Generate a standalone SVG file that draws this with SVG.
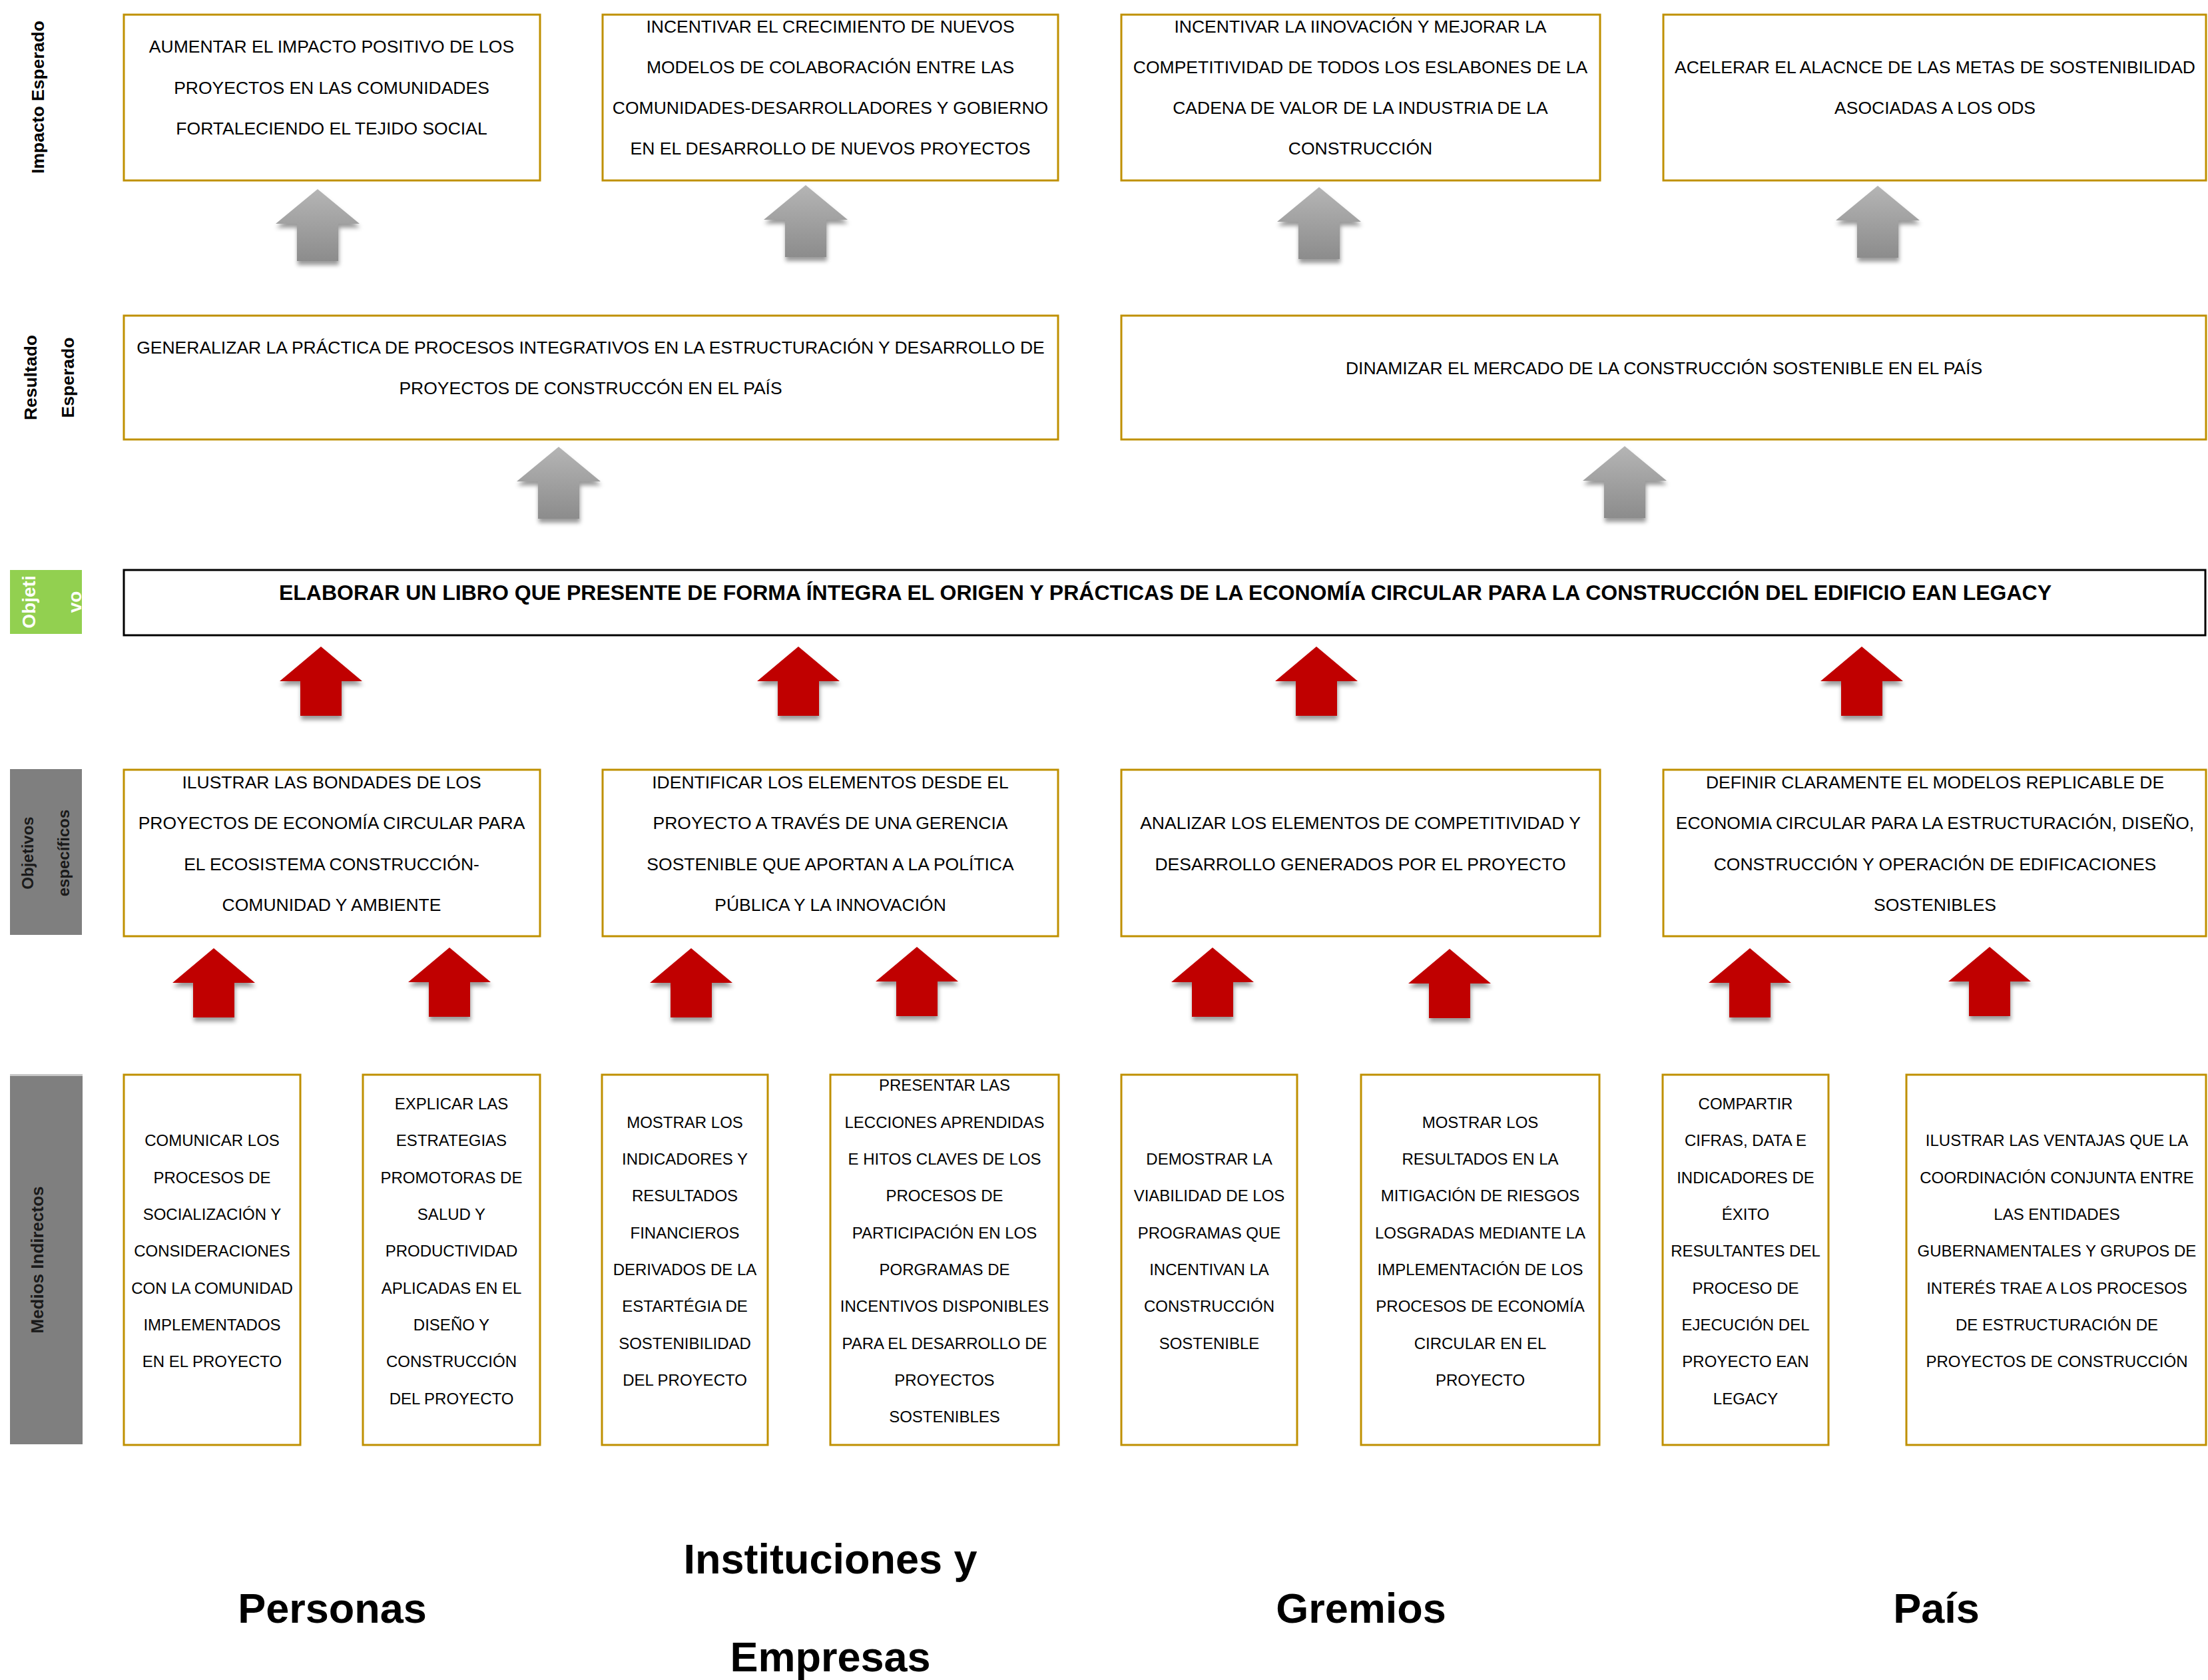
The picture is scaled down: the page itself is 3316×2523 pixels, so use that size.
<svg xmlns="http://www.w3.org/2000/svg" width="3316" height="2523" viewBox="0 0 3316 2523">
<style>
.box{fill:#fff;stroke:#BF9000;stroke-width:3}
.obj{fill:#fff;stroke:#000;stroke-width:3}
.t{font-family:"Liberation Sans",Arial,sans-serif;font-size:26.5px;fill:#000;text-anchor:middle}
.m{font-family:"Liberation Sans",Arial,sans-serif;font-size:24px;fill:#000;text-anchor:middle}
.ob{font-family:"Liberation Sans",Arial,sans-serif;font-size:32px;font-weight:bold;fill:#000;text-anchor:middle}
.lab{font-family:"Liberation Sans",Arial,sans-serif;font-size:26.5px;font-weight:bold;fill:#000;text-anchor:middle}
.labd{font-family:"Liberation Sans",Arial,sans-serif;font-size:24px;font-weight:bold;fill:#1a1a1a;text-anchor:middle}
.labw{font-family:"Liberation Sans",Arial,sans-serif;font-size:28px;font-weight:bold;fill:#fff;text-anchor:middle}
.big{font-family:"Liberation Sans",Arial,sans-serif;font-size:63px;font-weight:bold;fill:#000;text-anchor:middle}
</style>
<defs>
<linearGradient id="gg" x1="0" y1="0" x2="0" y2="1">
<stop offset="0" stop-color="#B5B5B5"/>
<stop offset="1" stop-color="#8C8C8C"/>
</linearGradient>
<filter id="sh" x="-30%" y="-20%" width="160%" height="150%">
<feDropShadow dx="1" dy="6" stdDeviation="3" flood-color="#000" flood-opacity="0.4"/>
</filter>
<path id="ga" d="M0,0 L63,52 L31,52 L31,108 L-31,108 L-31,52 L-63,52 Z" fill="url(#gg)"/>
<path id="ra" d="M0,0 L62,52 L31,52 L31,104 L-31,104 L-31,52 L-62,52 Z" fill="#C00000"/>
</defs>
<rect width="3316" height="2523" fill="#fff"/>

<!-- Row labels -->
<g id="lbl-impacto">
<text class="lab" transform="translate(66,146) rotate(-90)">Impacto Esperado</text>
</g>
<g id="lbl-resultado">
<text class="lab" transform="translate(55,567) rotate(-90)">Resultado</text>
<text class="lab" transform="translate(111,567) rotate(-90)">Esperado</text>
</g>
<g id="lbl-objetivo">
<rect x="15" y="856" width="108" height="96" fill="#92D050"/>
<text class="labw" transform="translate(53,904) rotate(-90)">Objeti</text>
<text class="labw" transform="translate(122,904) rotate(-90)">vo</text>
</g>
<g id="lbl-objesp">
<rect x="15" y="1155" width="108" height="249" fill="#7F7F7F"/>
<text class="labd" transform="translate(50,1281) rotate(-90)">Objetivos</text>
<text class="labd" transform="translate(104,1281) rotate(-90)">específicos</text>
</g>
<g id="lbl-medios">
<rect x="15" y="1613" width="109" height="556" fill="#7F7F7F"/>
<line x1="15" y1="1614.5" x2="124" y2="1614.5" stroke="#C8C8C8" stroke-width="3"/>
<text class="labd" style="font-size:26px" transform="translate(65,1892) rotate(-90)">Medios Indirectos</text>
</g>

<!-- Impacto esperado -->
<g id="imp1">
<rect class="box" x="186" y="22" width="625" height="249"/>
<text class="t"><tspan x="498" y="79.3">AUMENTAR EL IMPACTO POSITIVO DE LOS</tspan><tspan x="498" y="140.5">PROYECTOS EN LAS COMUNIDADES</tspan><tspan x="498" y="201.7">FORTALECIENDO EL TEJIDO SOCIAL</tspan></text>
</g>
<g id="imp2">
<rect class="box" x="905" y="22" width="684" height="249"/>
<text class="t"><tspan x="1247" y="48.7">INCENTIVAR EL CRECIMIENTO DE NUEVOS</tspan><tspan x="1247" y="109.9">MODELOS DE COLABORACIÓN ENTRE LAS</tspan><tspan x="1247" y="171.1">COMUNIDADES-DESARROLLADORES Y GOBIERNO</tspan><tspan x="1247" y="232.3">EN EL DESARROLLO DE NUEVOS PROYECTOS</tspan></text>
</g>
<g id="imp3">
<rect class="box" x="1684" y="22" width="719" height="249"/>
<text class="t"><tspan x="2043" y="48.7">INCENTIVAR LA IINOVACIÓN Y MEJORAR LA</tspan><tspan x="2043" y="109.9">COMPETITIVIDAD DE TODOS LOS ESLABONES DE LA</tspan><tspan x="2043" y="171.1">CADENA DE VALOR DE LA INDUSTRIA DE LA</tspan><tspan x="2043" y="232.3">CONSTRUCCIÓN</tspan></text>
</g>
<g id="imp4">
<rect class="box" x="2498" y="22" width="815" height="249"/>
<text class="t"><tspan x="2906" y="109.9">ACELERAR EL ALACNCE DE LAS METAS DE SOSTENIBILIDAD</tspan><tspan x="2906" y="171.1">ASOCIADAS A LOS ODS</tspan></text>
</g>

<!-- Resultado esperado -->
<g id="res1">
<rect class="box" x="186" y="474" width="1403" height="186"/>
<text class="t"><tspan x="887" y="530.9">GENERALIZAR LA PRÁCTICA DE PROCESOS INTEGRATIVOS EN LA ESTRUCTURACIÓN Y DESARROLLO DE</tspan><tspan x="887" y="592.1">PROYECTOS DE CONSTRUCCÓN EN EL PAÍS</tspan></text>
</g>
<g id="res2">
<rect class="box" x="1684" y="474" width="1629" height="186"/>
<text class="t" x="2499" y="561.5">DINAMIZAR EL MERCADO DE LA CONSTRUCCIÓN SOSTENIBLE EN EL PAÍS</text>
</g>

<!-- Objetivo -->
<g id="objetivo">
<rect class="obj" x="186" y="856" width="3126" height="98"/>
<text class="ob" x="1750" y="900.5">ELABORAR UN LIBRO QUE PRESENTE DE FORMA ÍNTEGRA EL ORIGEN Y PRÁCTICAS DE LA ECONOMÍA CIRCULAR PARA LA CONSTRUCCIÓN DEL EDIFICIO EAN LEGACY</text>
</g>

<!-- Objetivos especificos -->
<g id="oe1">
<rect class="box" x="186" y="1156" width="625" height="250"/>
<text class="t"><tspan x="498" y="1184.2">ILUSTRAR LAS BONDADES DE LOS</tspan><tspan x="498" y="1245.4">PROYECTOS DE ECONOMÍA CIRCULAR PARA</tspan><tspan x="498" y="1306.6">EL ECOSISTEMA CONSTRUCCIÓN-</tspan><tspan x="498" y="1367.8">COMUNIDAD Y AMBIENTE</tspan></text>
</g>
<g id="oe2">
<rect class="box" x="905" y="1156" width="684" height="250"/>
<text class="t"><tspan x="1247" y="1184.2">IDENTIFICAR LOS ELEMENTOS DESDE EL</tspan><tspan x="1247" y="1245.4">PROYECTO A TRAVÉS DE UNA GERENCIA</tspan><tspan x="1247" y="1306.6">SOSTENIBLE QUE APORTAN A LA POLÍTICA</tspan><tspan x="1247" y="1367.8">PÚBLICA Y LA INNOVACIÓN</tspan></text>
</g>
<g id="oe3">
<rect class="box" x="1684" y="1156" width="719" height="250"/>
<text class="t"><tspan x="2043" y="1245.4">ANALIZAR LOS ELEMENTOS DE COMPETITIVIDAD Y</tspan><tspan x="2043" y="1306.6">DESARROLLO GENERADOS POR EL PROYECTO</tspan></text>
</g>
<g id="oe4">
<rect class="box" x="2498" y="1156" width="815" height="250"/>
<text class="t"><tspan x="2906" y="1184.2">DEFINIR CLARAMENTE EL MODELOS REPLICABLE DE</tspan><tspan x="2906" y="1245.4">ECONOMIA CIRCULAR PARA LA ESTRUCTURACIÓN, DISEÑO,</tspan><tspan x="2906" y="1306.6">CONSTRUCCIÓN Y OPERACIÓN DE EDIFICACIONES</tspan><tspan x="2906" y="1367.8">SOSTENIBLES</tspan></text>
</g>

<!-- Medios indirectos -->
<g id="mi1">
<rect class="box" x="186" y="1614" width="265" height="556"/>
<text class="m"><tspan x="318.5" y="1721.4">COMUNICAR LOS</tspan><tspan x="318.5" y="1776.7">PROCESOS DE</tspan><tspan x="318.5" y="1832">SOCIALIZACIÓN Y</tspan><tspan x="318.5" y="1887.3">CONSIDERACIONES</tspan><tspan x="318.5" y="1942.6">CON LA COMUNIDAD</tspan><tspan x="318.5" y="1997.9">IMPLEMENTADOS</tspan><tspan x="318.5" y="2053.2">EN EL PROYECTO</tspan></text>
</g>
<g id="mi2">
<rect class="box" x="545" y="1614" width="266" height="556"/>
<text class="m"><tspan x="678" y="1666.1">EXPLICAR LAS</tspan><tspan x="678" y="1721.4">ESTRATEGIAS</tspan><tspan x="678" y="1776.7">PROMOTORAS DE</tspan><tspan x="678" y="1832">SALUD Y</tspan><tspan x="678" y="1887.3">PRODUCTIVIDAD</tspan><tspan x="678" y="1942.6">APLICADAS EN EL</tspan><tspan x="678" y="1997.9">DISEÑO Y</tspan><tspan x="678" y="2053.2">CONSTRUCCIÓN</tspan><tspan x="678" y="2108.5">DEL PROYECTO</tspan></text>
</g>
<g id="mi3">
<rect class="box" x="904" y="1614" width="249" height="556"/>
<text class="m"><tspan x="1028.5" y="1693.75">MOSTRAR LOS</tspan><tspan x="1028.5" y="1749.05">INDICADORES Y</tspan><tspan x="1028.5" y="1804.35">RESULTADOS</tspan><tspan x="1028.5" y="1859.65">FINANCIEROS</tspan><tspan x="1028.5" y="1914.95">DERIVADOS DE LA</tspan><tspan x="1028.5" y="1970.25">ESTARTÉGIA DE</tspan><tspan x="1028.5" y="2025.55">SOSTENIBILIDAD</tspan><tspan x="1028.5" y="2080.85">DEL PROYECTO</tspan></text>
</g>
<g id="mi4">
<rect class="box" x="1247" y="1614" width="343" height="556"/>
<text class="m"><tspan x="1418.5" y="1638.45">PRESENTAR LAS</tspan><tspan x="1418.5" y="1693.75">LECCIONES APRENDIDAS</tspan><tspan x="1418.5" y="1749.05">E HITOS CLAVES DE LOS</tspan><tspan x="1418.5" y="1804.35">PROCESOS DE</tspan><tspan x="1418.5" y="1859.65">PARTICIPACIÓN EN LOS</tspan><tspan x="1418.5" y="1914.95">PORGRAMAS DE</tspan><tspan x="1418.5" y="1970.25">INCENTIVOS DISPONIBLES</tspan><tspan x="1418.5" y="2025.55">PARA EL DESARROLLO DE</tspan><tspan x="1418.5" y="2080.85">PROYECTOS</tspan><tspan x="1418.5" y="2136.15">SOSTENIBLES</tspan></text>
</g>
<g id="mi5">
<rect class="box" x="1684" y="1614" width="264" height="556"/>
<text class="m"><tspan x="1816" y="1749.05">DEMOSTRAR LA</tspan><tspan x="1816" y="1804.35">VIABILIDAD DE LOS</tspan><tspan x="1816" y="1859.65">PROGRAMAS QUE</tspan><tspan x="1816" y="1914.95">INCENTIVAN LA</tspan><tspan x="1816" y="1970.25">CONSTRUCCIÓN</tspan><tspan x="1816" y="2025.55">SOSTENIBLE</tspan></text>
</g>
<g id="mi6">
<rect class="box" x="2044" y="1614" width="358" height="556"/>
<text class="m"><tspan x="2223" y="1693.75">MOSTRAR LOS</tspan><tspan x="2223" y="1749.05">RESULTADOS EN LA</tspan><tspan x="2223" y="1804.35">MITIGACIÓN DE RIESGOS</tspan><tspan x="2223" y="1859.65">LOSGRADAS MEDIANTE LA</tspan><tspan x="2223" y="1914.95">IMPLEMENTACIÓN DE LOS</tspan><tspan x="2223" y="1970.25">PROCESOS DE ECONOMÍA</tspan><tspan x="2223" y="2025.55">CIRCULAR EN EL</tspan><tspan x="2223" y="2080.85">PROYECTO</tspan></text>
</g>
<g id="mi7">
<rect class="box" x="2497" y="1614" width="249" height="556"/>
<text class="m"><tspan x="2621.5" y="1666.1">COMPARTIR</tspan><tspan x="2621.5" y="1721.4">CIFRAS, DATA E</tspan><tspan x="2621.5" y="1776.7">INDICADORES DE</tspan><tspan x="2621.5" y="1832">ÉXITO</tspan><tspan x="2621.5" y="1887.3">RESULTANTES DEL</tspan><tspan x="2621.5" y="1942.6">PROCESO DE</tspan><tspan x="2621.5" y="1997.9">EJECUCIÓN DEL</tspan><tspan x="2621.5" y="2053.2">PROYECTO EAN</tspan><tspan x="2621.5" y="2108.5">LEGACY</tspan></text>
</g>
<g id="mi8">
<rect class="box" x="2863" y="1614" width="450" height="556"/>
<text class="m"><tspan x="3089" y="1721.4">ILUSTRAR LAS VENTAJAS QUE LA</tspan><tspan x="3089" y="1776.7">COORDINACIÓN CONJUNTA ENTRE</tspan><tspan x="3089" y="1832">LAS ENTIDADES</tspan><tspan x="3089" y="1887.3">GUBERNAMENTALES Y GRUPOS DE</tspan><tspan x="3089" y="1942.6">INTERÉS TRAE A LOS PROCESOS</tspan><tspan x="3089" y="1997.9">DE ESTRUCTURACIÓN DE</tspan><tspan x="3089" y="2053.2">PROYECTOS DE CONSTRUCCIÓN</tspan></text>
</g>

<!-- Bottom group labels -->
<g id="grp-personas"><text class="big" x="499" y="2437">Personas</text></g>
<g id="grp-instituciones"><text class="big"><tspan x="1247" y="2363">Instituciones y</tspan><tspan x="1247" y="2510">Empresas</tspan></text></g>
<g id="grp-gremios"><text class="big" x="2044" y="2437">Gremios</text></g>
<g id="grp-pais"><text class="big" x="2908" y="2437">País</text></g>

<!-- Connectors -->
<g id="connectors" filter="url(#sh)">
<use href="#ga" transform="translate(477,284)"/>
<use href="#ga" transform="translate(1210,278)"/>
<use href="#ga" transform="translate(1981,281)"/>
<use href="#ga" transform="translate(2820,279)"/>
<use href="#ga" transform="translate(839,671)"/>
<use href="#ga" transform="translate(2440,670)"/>
<use href="#ra" transform="translate(482,971)"/>
<use href="#ra" transform="translate(1199,971)"/>
<use href="#ra" transform="translate(1977,971)"/>
<use href="#ra" transform="translate(2796,971)"/>
<use href="#ra" transform="translate(321,1424)"/>
<use href="#ra" transform="translate(675,1423)"/>
<use href="#ra" transform="translate(1038,1424)"/>
<use href="#ra" transform="translate(1377,1422)"/>
<use href="#ra" transform="translate(1821,1423)"/>
<use href="#ra" transform="translate(2177,1425)"/>
<use href="#ra" transform="translate(2628,1424)"/>
<use href="#ra" transform="translate(2988,1422)"/>
</g>
</svg>
